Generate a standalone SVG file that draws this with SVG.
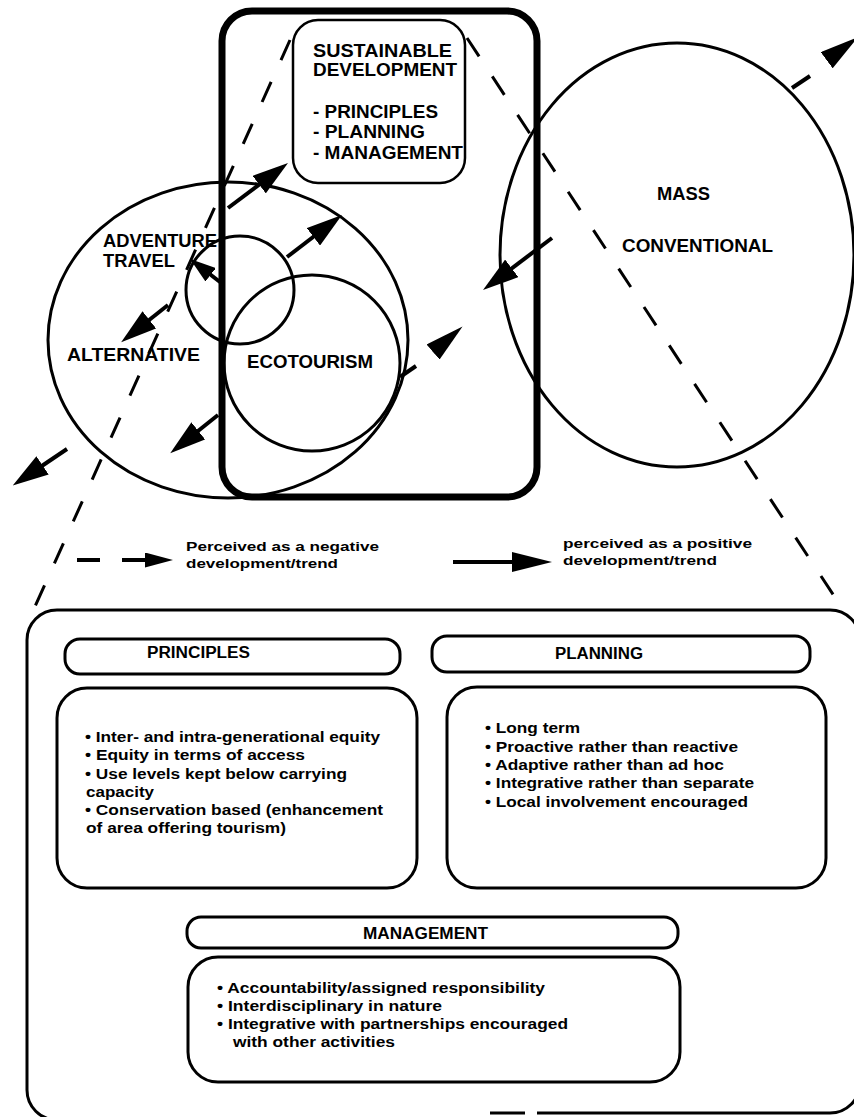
<svg xmlns="http://www.w3.org/2000/svg" width="854" height="1117" viewBox="0 0 854 1117">
<style>
.bg{fill:#fff}
.thick{fill:none;stroke:#000;stroke-width:7}
.ring{fill:none;stroke:#000;stroke-width:3}
.box{fill:none;stroke:#000;stroke-width:3}
.dash{fill:none;stroke:#000;stroke-width:3;stroke-dasharray:22 24}
.arr{fill:none;stroke:#000;stroke-width:4}
.lbl{font-family:"Liberation Sans",Arial,sans-serif;font-weight:bold;font-size:18px;fill:#000}
.hdr{font-family:"Liberation Sans",Arial,sans-serif;font-weight:bold;font-size:16px;fill:#000}
.body{font-family:"Liberation Sans",Arial,sans-serif;font-weight:bold;font-size:14px;fill:#000}
.leg{font-family:"Liberation Sans",Arial,sans-serif;font-weight:bold;font-size:13px;fill:#000}
</style>
<defs>
<marker id="ah" markerUnits="userSpaceOnUse" viewBox="0 0 36 22" markerWidth="36" markerHeight="22" refX="26" refY="11" orient="auto"><path d="M0,0 L36,11 L0,22 z" fill="#000"/></marker>
<marker id="ahs" markerUnits="userSpaceOnUse" viewBox="0 0 26 17" markerWidth="26" markerHeight="17" refX="16" refY="8.5" orient="auto"><path d="M0,0 L26,8.5 L0,17 z" fill="#000"/></marker>
<marker id="ahd" markerUnits="userSpaceOnUse" viewBox="0 0 39 20" markerWidth="39" markerHeight="20" refX="29" refY="10" orient="auto"><path d="M0,0 L39,10 L0,20 z" fill="#000"/></marker>
<marker id="ahl" markerUnits="userSpaceOnUse" viewBox="0 0 40 20" markerWidth="40" markerHeight="20" refX="30" refY="10" orient="auto"><path d="M0,0 L40,10 L0,20 z" fill="#000"/></marker>
<marker id="ahn" markerUnits="userSpaceOnUse" viewBox="0 0 28 15" markerWidth="28" markerHeight="15" refX="18" refY="7.5" orient="auto"><path d="M0,0 L28,7.5 L0,15 z" fill="#000"/></marker>
</defs>
<rect class="bg" x="0" y="0" width="854" height="1117"/>

<g id="alternative">
<ellipse class="ring" cx="228" cy="340" rx="180" ry="158"/>
<text class="lbl" x="67" y="361" textLength="133" lengthAdjust="spacingAndGlyphs">ALTERNATIVE</text>
</g>
<g id="adventure-travel">
<circle class="ring" cx="240" cy="290" r="54"/>
<text class="lbl" x="103" y="247" textLength="114" lengthAdjust="spacingAndGlyphs">ADVENTURE</text>
<text class="lbl" x="103" y="267" textLength="72" lengthAdjust="spacingAndGlyphs">TRAVEL</text>
</g>
<g id="ecotourism">
<circle class="ring" cx="312" cy="363" r="88"/>
<text class="lbl" x="247" y="368" textLength="126" lengthAdjust="spacingAndGlyphs">ECOTOURISM</text>
</g>
<g id="mass-conventional">
<ellipse class="ring" cx="677" cy="255" rx="177" ry="212"/>
<text class="lbl" x="657" y="200" textLength="53" lengthAdjust="spacingAndGlyphs">MASS</text>
<text class="lbl" x="622" y="252" textLength="151" lengthAdjust="spacingAndGlyphs">CONVENTIONAL</text>
</g>
<g id="sustainable-frame">
<rect class="thick" x="222" y="11" width="315" height="486" rx="30"/>
</g>
<g id="sustainable-development">
<rect x="293" y="20" width="172" height="163" rx="25" fill="none" stroke="#000" stroke-width="2.5"/>
<text class="lbl" x="313" y="57" textLength="139" lengthAdjust="spacingAndGlyphs">SUSTAINABLE</text>
<text class="lbl" x="313" y="76" textLength="144" lengthAdjust="spacingAndGlyphs">DEVELOPMENT</text>
<text class="lbl" x="313" y="118" textLength="125" lengthAdjust="spacingAndGlyphs">- PRINCIPLES</text>
<text class="lbl" x="313" y="138" textLength="112" lengthAdjust="spacingAndGlyphs">- PLANNING</text>
<text class="lbl" x="313" y="159" textLength="150" lengthAdjust="spacingAndGlyphs">- MANAGEMENT</text>
</g>

<g id="connectors">
<line class="dash" x1="290" y1="40" x2="28" y2="622"/>
<line class="dash" x1="467" y1="38" x2="840" y2="605"/>
<line class="arr" x1="228" y1="208" x2="280" y2="169" marker-end="url(#ah)"/>
<line class="arr" x1="287" y1="257" x2="334" y2="221" marker-end="url(#ah)"/>
<line class="arr" x1="552" y1="238" x2="491" y2="284" marker-end="url(#ah)"/>
<line class="arr" x1="218" y1="415" x2="178" y2="447" marker-end="url(#ah)"/>
<line class="arr" x1="67" y1="449" x2="21" y2="480" marker-end="url(#ah)"/>
<line class="arr" x1="168" y1="305" x2="129" y2="336" marker-end="url(#ah)"/>
<line class="arr" x1="220" y1="282" x2="198" y2="265" marker-end="url(#ahs)"/>
<line class="arr" x1="400" y1="377" x2="416" y2="366"/>
<line class="arr" x1="433" y1="352" x2="455" y2="333" marker-end="url(#ahd)"/>
<line class="arr" x1="792" y1="88" x2="810" y2="76"/>
<line class="arr" x1="827" y1="60" x2="850" y2="43" marker-end="url(#ahd)"/>
</g>

<g id="legend">
<line class="arr" x1="77" y1="560" x2="100" y2="560"/>
<line class="arr" x1="122" y1="560" x2="163" y2="560" marker-end="url(#ahn)"/>
<text class="leg" x="186" y="551" textLength="193" lengthAdjust="spacingAndGlyphs">Perceived as a negative</text>
<text class="leg" x="186" y="568" textLength="152" lengthAdjust="spacingAndGlyphs">development/trend</text>
<line class="arr" x1="453" y1="562" x2="542" y2="562" marker-end="url(#ahl)"/>
<text class="leg" x="563" y="548" textLength="189" lengthAdjust="spacingAndGlyphs">perceived as a positive</text>
<text class="leg" x="563" y="565" textLength="154" lengthAdjust="spacingAndGlyphs">development/trend</text>
</g>

<g id="components-frame">
<path class="box" d="M490,1113 L525,1113 M537,1113 L830,1113 A30,30 0 0 0 860,1083 L860,640 A30,30 0 0 0 830,610 L57,610 A30,30 0 0 0 27,640 L27,1090 A30,30 0 0 0 57,1120"/>
</g>
<g id="principles">
<rect class="box" x="65" y="639" width="335" height="35" rx="15"/>
<text class="hdr" x="147" y="658" textLength="103" lengthAdjust="spacingAndGlyphs">PRINCIPLES</text>
<rect class="box" x="57" y="688" width="360" height="200" rx="30"/>
<text class="body" x="85" y="742" textLength="295" lengthAdjust="spacingAndGlyphs">• Inter- and intra-generational equity</text>
<text class="body" x="85" y="760" textLength="220" lengthAdjust="spacingAndGlyphs">• Equity in terms of access</text>
<text class="body" x="85" y="779" textLength="262" lengthAdjust="spacingAndGlyphs">• Use levels kept below carrying</text>
<text class="body" x="86" y="797" textLength="68" lengthAdjust="spacingAndGlyphs">capacity</text>
<text class="body" x="85" y="815" textLength="298" lengthAdjust="spacingAndGlyphs">• Conservation based (enhancement</text>
<text class="body" x="86" y="833" textLength="200" lengthAdjust="spacingAndGlyphs">of area offering tourism)</text>
</g>
<g id="planning">
<rect class="box" x="432" y="636" width="378" height="36" rx="15"/>
<text class="hdr" x="555" y="659" textLength="88" lengthAdjust="spacingAndGlyphs">PLANNING</text>
<rect class="box" x="447" y="687" width="379" height="201" rx="30"/>
<text class="body" x="485" y="733" textLength="95" lengthAdjust="spacingAndGlyphs">• Long term</text>
<text class="body" x="485" y="752" textLength="253" lengthAdjust="spacingAndGlyphs">• Proactive rather than reactive</text>
<text class="body" x="485" y="770" textLength="239" lengthAdjust="spacingAndGlyphs">• Adaptive rather than ad hoc</text>
<text class="body" x="485" y="788" textLength="269" lengthAdjust="spacingAndGlyphs">• Integrative rather than separate</text>
<text class="body" x="485" y="807" textLength="263" lengthAdjust="spacingAndGlyphs">• Local involvement encouraged</text>
</g>
<g id="management">
<rect class="box" x="187" y="917" width="491" height="31" rx="14"/>
<text class="hdr" x="363" y="939" textLength="125" lengthAdjust="spacingAndGlyphs">MANAGEMENT</text>
<rect class="box" x="188" y="957" width="492" height="125" rx="30"/>
<text class="body" x="217" y="993" textLength="328" lengthAdjust="spacingAndGlyphs">• Accountability/assigned responsibility</text>
<text class="body" x="217" y="1011" textLength="225" lengthAdjust="spacingAndGlyphs">• Interdisciplinary in nature</text>
<text class="body" x="217" y="1029" textLength="351" lengthAdjust="spacingAndGlyphs">• Integrative with partnerships encouraged</text>
<text class="body" x="233" y="1047" textLength="162" lengthAdjust="spacingAndGlyphs">with other activities</text>
</g>
</svg>
